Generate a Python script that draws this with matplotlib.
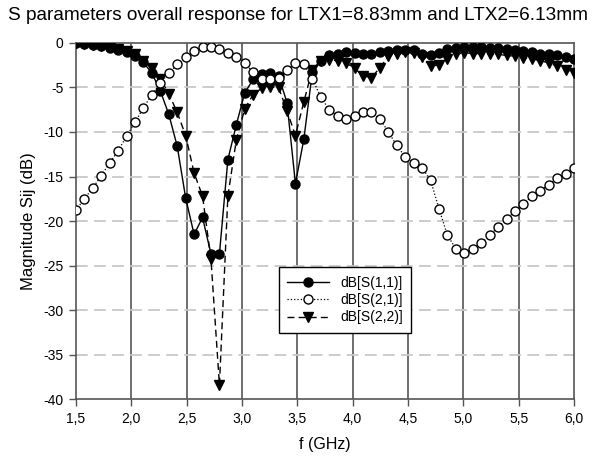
import numpy as np
import matplotlib
matplotlib.use('Agg')
import matplotlib.pyplot as plt
from matplotlib.ticker import FixedLocator

plt.rcParams['font.family'] = ['Liberation Sans', 'DejaVu Sans']

# frequency points (GHz), 60 samples from 1.5 to 6.0
freq = np.linspace(1.5, 6.0, 60)

s11 = [0.0, -0.1, -0.2, -0.4, -0.55, -0.75, -1.05, -1.5, -2.2, -3.4,
       -5.4, -8.0, -11.6, -17.4, -21.5, -19.6, -23.7, -23.7, -13.1, -9.2,
       -5.6, -4.1, -3.5, -3.4, -3.7, -6.7, -15.8, -10.8, -3.3, -2.0,
       -1.4, -1.2, -1.05, -1.1, -1.2, -1.2, -1.05, -0.95, -0.8, -0.75,
       -0.8, -1.25, -1.4, -1.1, -0.7, -0.6, -0.45, -0.45, -0.45, -0.55,
       -0.55, -0.7, -0.75, -0.95, -1.05, -1.2, -1.3, -1.4, -1.6, -1.8]

s21 = [-18.8, -17.5, -16.3, -14.9, -13.5, -12.1, -10.5, -8.9, -7.3, -5.8,
       -4.5, -3.4, -2.4, -1.6, -0.9, -0.45, -0.45, -0.7, -1.1, -1.6,
       -2.3, -3.3, -4.0, -4.1, -3.9, -3.1, -2.25, -2.4, -4.0, -6.1,
       -7.5, -8.2, -8.5, -8.2, -7.8, -7.8, -8.5, -10.0, -11.5, -12.8,
       -13.5, -14.0, -15.4, -18.6, -21.6, -23.1, -23.6, -23.1, -22.5, -21.6,
       -20.7, -19.8, -18.9, -18.1, -17.2, -16.6, -15.9, -15.2, -14.7, -14.1]

s22 = [0.0, -0.1, -0.2, -0.35, -0.5, -0.7, -0.9, -1.3, -2.0, -2.8,
       -4.0, -5.7, -7.8, -10.4, -14.6, -17.2, -24.3, -38.4, -17.2, -10.9,
       -7.4, -5.8, -5.1, -4.9, -5.0, -7.6, -10.4, -6.6, -3.0, -2.0,
       -1.9, -2.0, -2.25, -2.85, -3.7, -3.9, -2.8, -1.5, -1.25, -1.0,
       -1.1, -1.6, -2.65, -2.45, -1.85, -1.3, -1.1, -1.2, -1.2, -1.3,
       -1.3, -1.4, -1.5, -1.7, -1.8, -2.0, -2.25, -2.6, -3.0, -3.4]

xticks = [1.5, 2.0, 2.5, 3.0, 3.5, 4.0, 4.5, 5.0, 5.5, 6.0]
yticks = [0, -5, -10, -15, -20, -25, -30, -35, -40]

fig = plt.figure(figsize=(6.12, 4.61), dpi=100)
ax = fig.add_axes([0.124, 0.134, 0.814, 0.773])

# grid first so curves sit on top
for x in xticks[1:-1]:
    ax.axvline(x, color='#555555', lw=1.2, zorder=1)
for y in yticks[1:-1]:
    ax.axhline(y, color='#c8c8c8', lw=1.3, dashes=(6.5, 3.5), zorder=1)

ms = 6.5
l22, = ax.plot(freq, s22, color='black', lw=1.0, dashes=(5, 3),
               marker='v', ms=ms, mfc='black', mec='black', zorder=3,
               label='dB[S(2,2)]')
l11, = ax.plot(freq, s11, color='black', lw=1.0, ls='-',
               marker='o', ms=ms, mfc='black', mec='black', zorder=4,
               label='dB[S(1,1)]')
l21, = ax.plot(freq, s21, color='black', lw=0.9, ls=':',
               marker='o', ms=ms, mfc='white', mec='black', mew=1.0,
               zorder=5, label='dB[S(2,1)]')

ax.set_xlim(1.5, 6.0)
ax.set_ylim(-40, 0)
ax.xaxis.set_major_locator(FixedLocator(xticks))
ax.yaxis.set_major_locator(FixedLocator(yticks))
ax.set_xticklabels([f'{v:.1f}'.replace('.', ',') for v in xticks])
ax.set_yticklabels([str(v) for v in yticks])
ax.tick_params(axis='both', direction='out', length=5, width=1.0,
               color='#555555', labelsize=10, pad=4)

for s in ax.spines.values():
    s.set_color('#555555')
    s.set_linewidth(1.2)

ax.set_xlabel('f (GHz)', fontsize=11.5, labelpad=8)
ax.set_ylabel('Magnitude Sij (dB)', fontsize=12, labelpad=5)

fig.text(0.013, 0.967, 'S parameters overall response for LTX1=8.83mm and LTX2=6.13mm',
         fontsize=13.7, ha='left', va='center')

leg = ax.legend(handles=[l11, l21, l22], loc='upper left',
                bbox_to_anchor=(0.394, 0.39), fontsize=10,
                fancybox=False, framealpha=1, edgecolor='black',
                handlelength=3.0, borderpad=0.6, labelspacing=0.25)
leg.get_frame().set_linewidth(1.0)
leg.set_zorder(10)

fig.savefig('out.png', dpi=100)
